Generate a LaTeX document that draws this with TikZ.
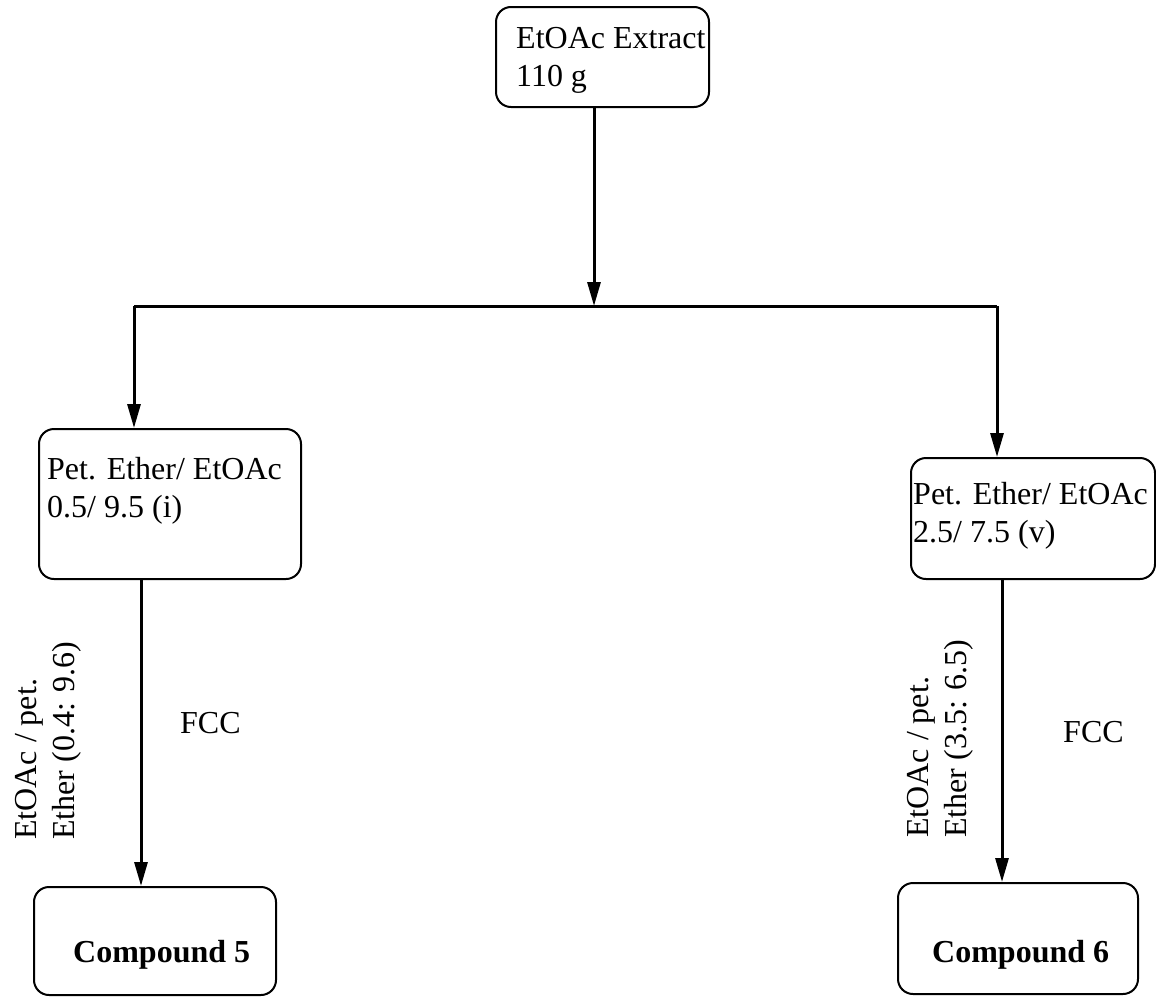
\documentclass[tikz,border=0pt]{standalone}
\usepackage{fontspec}
\setmainfont{Liberation Serif}
\usetikzlibrary{arrows.meta}
\begin{document}
\begin{tikzpicture}[x=1pt,y=-1pt,
  box/.style={draw, line width=2pt, rounded corners=15pt, inner sep=0pt, anchor=north west},
  txt/.style={inner sep=0pt, align=left, font=\fontsize{32}{38}\selectfont},
  conn/.style={line width=3pt},
  arr/.style={conn, -{Stealth[length=24pt,width=13pt,inset=0pt]}}]
\useasboundingbox (0,0) rectangle (1156,996);

% boxes
\node[box, minimum width=213pt, minimum height=100pt] (top) at (495,6) {};
\node[box, minimum width=262pt, minimum height=150pt] (lbox) at (38,428) {};
\node[box, minimum width=244pt, minimum height=121pt] (rbox) at (910,457) {};
\node[box, minimum width=242pt, minimum height=108pt] (c5) at (33,886) {};
\node[box, minimum width=240pt, minimum height=111pt] (c6) at (897,882) {};

% box texts (anchored at the baseline of the last line)
\node[txt, anchor=base west] (ttop) at (516,86) {EtOAc Extract\\110 g};
\node[txt, anchor=base west] (tl) at (47,517) {Pet. Ether/ EtOAc\\0.5/ 9.5 (i)};
\node[txt, anchor=base west] (tr) at (913,542) {Pet. Ether/ EtOAc\\2.5/ 7.5 (v)};
\node[txt, anchor=base west] (t5) at (73,962) {\bfseries Compound 5};
\node[txt, anchor=base west] (t6) at (932,962) {\bfseries Compound 6};

% side labels
\node[txt, anchor=base west] (fl) at (180,733) {FCC};
\node[txt, anchor=base west] (fr) at (1063,742) {FCC};
\node[txt, rotate=90, anchor=base west] (el) at (74,840) {EtOAc / pet.\\Ether (0.4: 9.6)};
\node[txt, rotate=90, anchor=base west] (er) at (966,838) {EtOAc / pet.\\Ether (3.5: 6.5)};

% junction coordinates
\coordinate (split) at (594,306);
\coordinate (jl) at (134,306);
\coordinate (jr) at (997,306);
\coordinate (dl) at (141,578);
\coordinate (dr) at (1002,578);

% connectors
\draw[arr] (top.south -| split) -- (split);
\draw[conn] (jl) -- (jr);
\draw[arr] (jl) -- (jl |- lbox.north);
\draw[arr] (jr) -- (jr |- rbox.north);
\draw[arr] (dl |- lbox.south) -- (dl |- c5.north);
\draw[arr] (dr |- rbox.south) -- (dr |- c6.north);
\end{tikzpicture}
\end{document}
